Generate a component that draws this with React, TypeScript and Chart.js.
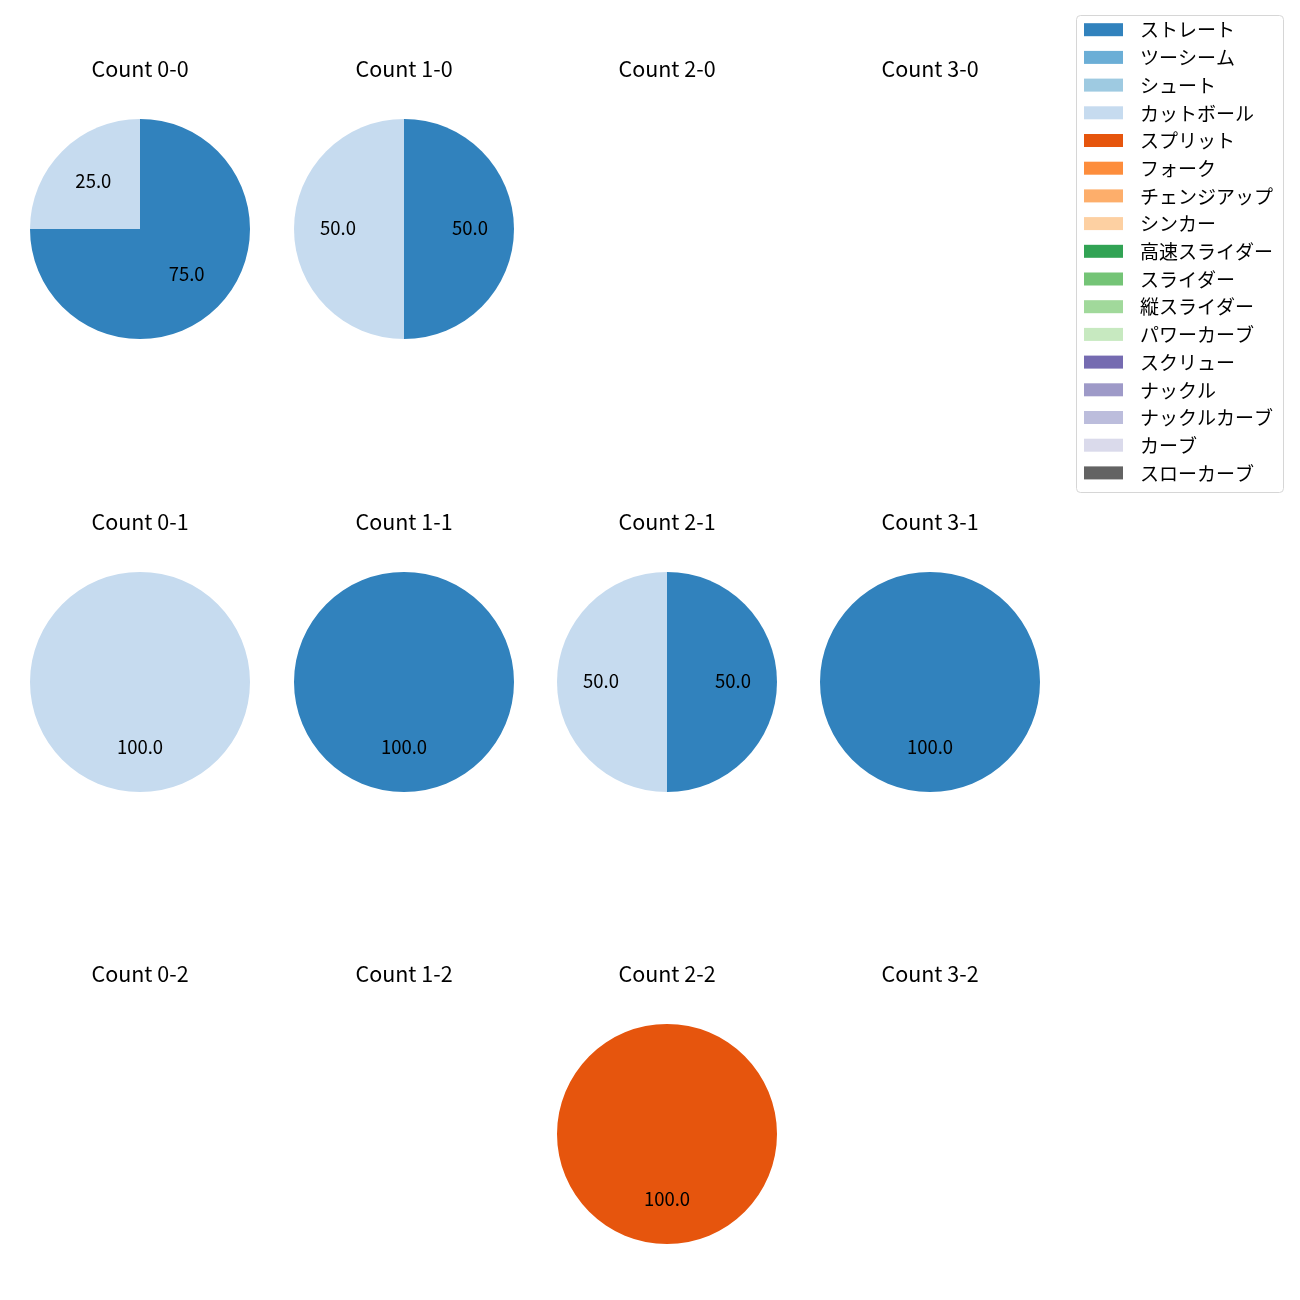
import React, { useEffect, useRef } from "react";
import { Chart, registerables } from "chart.js";

Chart.register(...registerables);

const FONT = "'Noto Sans CJK JP', 'Noto Sans', sans-serif";

const pitchTypes = [
  "ストレート", "ツーシーム", "シュート", "カットボール", "スプリット", "フォーク",
  "チェンジアップ", "シンカー", "高速スライダー", "スライダー", "縦スライダー",
  "パワーカーブ", "スクリュー", "ナックル", "ナックルカーブ", "カーブ", "スローカーブ",
];
const pitchColors = [
  "#3182bd", "#6baed6", "#9ecae1", "#c6dbef", "#e6550d", "#fd8d3c",
  "#fdae6b", "#fdd0a2", "#31a354", "#74c476", "#a1d99b",
  "#c7e9c0", "#756bb1", "#9e9ac8", "#bcbddc", "#dadaeb", "#636363",
];

// pitch counts per ball-strike count (order follows pitchTypes)
const count00 = [3, 0, 0, 1, 0, 0, 0, 0, 0, 0, 0, 0, 0, 0, 0, 0, 0];
const count10 = [1, 0, 0, 1, 0, 0, 0, 0, 0, 0, 0, 0, 0, 0, 0, 0, 0];
const count20: number[] = [];
const count30: number[] = [];
const count01 = [0, 0, 0, 1, 0, 0, 0, 0, 0, 0, 0, 0, 0, 0, 0, 0, 0];
const count11 = [1, 0, 0, 0, 0, 0, 0, 0, 0, 0, 0, 0, 0, 0, 0, 0, 0];
const count21 = [1, 0, 0, 1, 0, 0, 0, 0, 0, 0, 0, 0, 0, 0, 0, 0, 0];
const count31 = [1, 0, 0, 0, 0, 0, 0, 0, 0, 0, 0, 0, 0, 0, 0, 0, 0];
const count02: number[] = [];
const count12: number[] = [];
const count22 = [0, 0, 0, 0, 1, 0, 0, 0, 0, 0, 0, 0, 0, 0, 0, 0, 0];
const count32: number[] = [];

const countTitles = [
  "Count 0-0", "Count 1-0", "Count 2-0", "Count 3-0",
  "Count 0-1", "Count 1-1", "Count 2-1", "Count 3-1",
  "Count 0-2", "Count 1-2", "Count 2-2", "Count 3-2",
];
const countData = [
  count00, count10, count20, count30,
  count01, count11, count21, count31,
  count02, count12, count22, count32,
];

// layout
const colCenters = [140, 404, 667, 930];
const rowTitleY = [69, 522, 974];
const RADIUS = 110;
const TITLE_TO_PIE = 50; // title center to pie top

const pctLabelPlugin = {
  id: "pctLabels",
  afterDatasetsDraw(chart: any) {
    const ds = chart.data.datasets[0];
    if (!ds) return;
    const total = ds.data.reduce((a: number, b: number) => a + b, 0);
    if (!total) return;
    const meta = chart.getDatasetMeta(0);
    const ctx = chart.ctx;
    ctx.save();
    ctx.fillStyle = "#000";
    ctx.font = `18.5px ${FONT}`;
    ctx.textAlign = "center";
    ctx.textBaseline = "middle";
    meta.data.forEach((arc: any, i: number) => {
      const v = ds.data[i];
      if (!v) return;
      const p = arc.getProps(["x", "y", "startAngle", "endAngle", "outerRadius"], true);
      const mid = (p.startAngle + p.endAngle) / 2;
      const r = p.outerRadius * 0.6;
      const x = p.x + Math.cos(mid) * r;
      const y = p.y + Math.sin(mid) * r;
      ctx.fillText(((v / total) * 100).toFixed(1), x, y - 1.5);
    });
    ctx.restore();
  },
};

const legendPlugin = {
  id: "boxLegend",
  afterDraw(chart: any) {
    const ctx = chart.ctx;
    const labels: string[] = chart.data.labels;
    const colors: string[] = chart.data.datasets[0].backgroundColor;
    ctx.save();
    const x0 = 6.5, y0 = 5.5, w = 207, h = 477, rr = 4;
    ctx.beginPath();
    ctx.moveTo(x0 + rr, y0);
    ctx.lineTo(x0 + w - rr, y0);
    ctx.quadraticCurveTo(x0 + w, y0, x0 + w, y0 + rr);
    ctx.lineTo(x0 + w, y0 + h - rr);
    ctx.quadraticCurveTo(x0 + w, y0 + h, x0 + w - rr, y0 + h);
    ctx.lineTo(x0 + rr, y0 + h);
    ctx.quadraticCurveTo(x0, y0 + h, x0, y0 + h - rr);
    ctx.lineTo(x0, y0 + rr);
    ctx.quadraticCurveTo(x0, y0, x0 + rr, y0);
    ctx.closePath();
    ctx.fillStyle = "rgba(255,255,255,0.8)";
    ctx.fill();
    ctx.strokeStyle = "#d6d6d6";
    ctx.lineWidth = 1;
    ctx.stroke();
    ctx.font = `19px ${FONT}`;
    ctx.textBaseline = "middle";
    ctx.textAlign = "left";
    labels.forEach((lab, i) => {
      const cy = 19.7 + i * 27.7;
      ctx.fillStyle = colors[i];
      ctx.fillRect(14, cy - 6.5, 39, 13);
      ctx.fillStyle = "#000";
      ctx.fillText(lab, 70, cy + 0.5);
    });
    ctx.restore();
  },
};

function PieCell({ title, data, cx, ty }: { title: string; data: number[]; cx: number; ty: number }) {
  const ref = useRef<HTMLCanvasElement>(null);
  const W = 260;
  const top = ty - 30;
  const H = ty + TITLE_TO_PIE + 2 * RADIUS - top;
  useEffect(() => {
    if (!ref.current) return;
    const titleSize = 21.5;
    const lineH = titleSize * 1.2;
    const padTop = ty - top - lineH / 2;
    const padBottom = ty + TITLE_TO_PIE - (top + padTop + lineH);
    const chart = new Chart(ref.current, {
      type: "pie",
      data: {
        labels: pitchTypes,
        datasets: [
          {
            data: data,
            backgroundColor: pitchColors,
            borderWidth: 0,
          },
        ],
      },
      options: {
        animation: false,
        responsive: false,
        maintainAspectRatio: false,
        layout: { padding: 0 },
        plugins: {
          legend: { display: false },
          tooltip: { enabled: false },
          title: {
            display: true,
            text: title,
            color: "#000",
            font: { family: FONT, size: titleSize, weight: "normal", lineHeight: 1.2 },
            padding: { top: padTop, bottom: padBottom },
          },
        },
      },
      plugins: [pctLabelPlugin],
    });
    return () => chart.destroy();
  }, []);
  return (
    <canvas
      ref={ref}
      width={W}
      height={H}
      style={{ position: "absolute", left: cx - W / 2, top, width: W, height: H }}
    />
  );
}

function LegendBox() {
  const ref = useRef<HTMLCanvasElement>(null);
  useEffect(() => {
    if (!ref.current) return;
    const chart = new Chart(ref.current, {
      type: "pie",
      data: {
        labels: pitchTypes,
        datasets: [{ data: pitchTypes.map(() => 0), backgroundColor: pitchColors }],
      },
      options: {
        animation: false,
        responsive: false,
        plugins: { legend: { display: false }, tooltip: { enabled: false } },
      },
      plugins: [legendPlugin],
    });
    return () => chart.destroy();
  }, []);
  return (
    <canvas
      ref={ref}
      width={220}
      height={490}
      style={{ position: "absolute", left: 1070, top: 10, width: 220, height: 490 }}
    />
  );
}

export default function App() {
  return (
    <div style={{ position: "absolute", left: 0, top: 0, width: 1300, height: 1300, background: "#fff" }}>
      {countTitles.map((t, i) => (
        <PieCell
          key={t}
          title={t}
          data={countData[i]}
          cx={colCenters[i % 4]}
          ty={rowTitleY[Math.floor(i / 4)]}
        />
      ))}
      <LegendBox />
    </div>
  );
}
